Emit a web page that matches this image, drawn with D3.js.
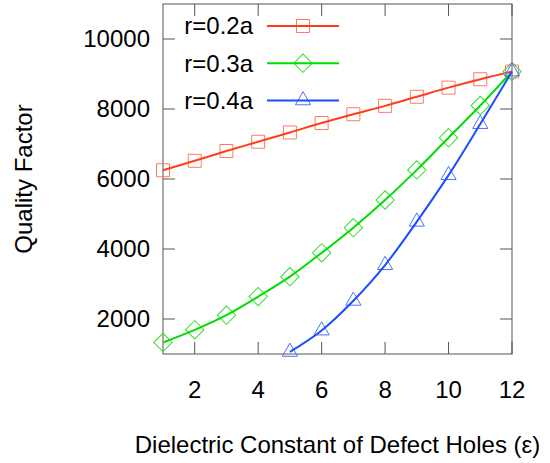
<!DOCTYPE html>
<html>
<head>
<meta charset="utf-8">
<script src="https://cdn.jsdelivr.net/npm/d3@7"></script>
<style>
  body { margin: 0; background: #fff; }
  text { font-family: Arial, "Liberation Sans", sans-serif; fill: #000; }
</style>
</head>
<body>
<svg id="chart"></svg>
<script>
// data
const epsilon = [1, 2, 3, 4, 5, 6, 7, 8, 9, 10, 11, 12];
const q02 = [6250, 6520, 6800, 7065, 7330, 7600, 7850, 8090, 8350, 8610, 8850, 9070];
const q03 = [1330, 1690, 2110, 2640, 3210, 3890, 4610, 5400, 6260, 7180, 8100, 9070];
const eps04 = [5, 6, 7, 8, 9, 10, 11, 12];
const q04 = [1060, 1670, 2520, 3540, 4780, 6110, 7570, 9070];
const xTicks = [2, 4, 6, 8, 10, 12];
const yTicks = [2000, 4000, 6000, 8000, 10000];

const series = [
  { name: "r=0.2a", xs: epsilon, ys: q02, line: "#ff3d1a", mark: "#ff7a66", shape: "square" },
  { name: "r=0.3a", xs: epsilon, ys: q03, line: "#00dd00", mark: "#33dd33", shape: "diamond" },
  { name: "r=0.4a", xs: eps04, ys: q04, line: "#1a4dff", mark: "#4d6fff", shape: "triangle" }
];

const width = 550, height = 463;
const margin = { top: 4, right: 38, bottom: 109, left: 163 };

const svg = d3.select("#chart").attr("width", width).attr("height", height);

const x = d3.scaleLinear().domain([1, 12]).range([margin.left, width - margin.right]);
const y = d3.scaleLinear().domain([1000, 11000]).range([height - margin.bottom, margin.top]);

const frame = "#555";

// ticks, inward, mirrored on both sides
const tickLen = 12;
const g = svg.append("g");
g.selectAll("line.xt").data(xTicks).enter().append("line")
  .attr("x1", d => x(d)).attr("x2", d => x(d))
  .attr("y1", y(1000)).attr("y2", y(1000) - tickLen)
  .attr("stroke", frame);
g.selectAll("line.xt2").data(xTicks).enter().append("line")
  .attr("x1", d => x(d)).attr("x2", d => x(d))
  .attr("y1", y(11000)).attr("y2", y(11000) + tickLen)
  .attr("stroke", frame);
g.selectAll("line.yt").data(yTicks).enter().append("line")
  .attr("x1", x(1)).attr("x2", x(1) + tickLen)
  .attr("y1", d => y(d)).attr("y2", d => y(d))
  .attr("stroke", frame);
g.selectAll("line.yt2").data(yTicks).enter().append("line")
  .attr("x1", x(12)).attr("x2", x(12) - tickLen)
  .attr("y1", d => y(d)).attr("y2", d => y(d))
  .attr("stroke", frame);

g.append("rect")
  .attr("x", x(1)).attr("y", y(11000))
  .attr("width", x(12) - x(1)).attr("height", y(1000) - y(11000))
  .attr("fill", "none").attr("stroke", frame);

// tick labels
svg.selectAll("text.xl").data(xTicks).enter().append("text")
  .attr("x", d => x(d)).attr("y", 398)
  .attr("text-anchor", "middle").attr("font-size", 24)
  .text(d => d);
svg.selectAll("text.yl").data(yTicks).enter().append("text")
  .attr("x", x(1) - 13).attr("y", d => y(d)).attr("dy", "0.35em")
  .attr("text-anchor", "end").attr("font-size", 24)
  .text(d => d);

// axis titles
svg.append("text")
  .attr("x", (x(1) + x(12)) / 2).attr("y", 453)
  .attr("text-anchor", "middle").attr("font-size", 24)
  .text("Dielectric Constant of Defect Holes (ε)");
svg.append("text")
  .attr("transform", `translate(32,${(y(1000) + y(11000)) / 2}) rotate(-90)`)
  .attr("text-anchor", "middle").attr("font-size", 24)
  .text("Quality Factor");

function marker(sel, shape, color) {
  if (shape === "square") {
    sel.append("path").attr("d", d3.symbol(d3.symbolSquare, 169)());
  } else if (shape === "diamond") {
    sel.append("path").attr("d", d3.symbol(d3.symbolSquare, 169)()).attr("transform", "rotate(45)");
  } else {
    sel.append("path").attr("d", d3.symbol(d3.symbolTriangle, 100)());
  }
  sel.selectAll("path").attr("fill", "none").attr("stroke", color).attr("stroke-width", 1);
}

const line = d3.line().curve(d3.curveMonotoneX);

series.forEach(s => {
  const pts = s.xs.map((v, i) => [x(v), y(s.ys[i])]);
  const mg = svg.append("g");
  pts.forEach(p => {
    mg.append("g").attr("transform", `translate(${p[0]},${p[1]})`).call(marker, s.shape, s.mark);
  });
  svg.append("path")
    .attr("d", line(pts))
    .attr("fill", "none").attr("stroke", s.line).attr("stroke-width", 2);
});

// legend
const legend = svg.append("g");
series.forEach((s, i) => {
  const ly = 26 + i * 37.2;
  legend.append("text")
    .attr("x", 253).attr("y", ly).attr("dy", "0.35em")
    .attr("text-anchor", "end").attr("font-size", 24)
    .text(s.name);
  legend.append("g").attr("transform", `translate(303,${ly})`).call(marker, s.shape, s.mark);
  legend.append("line")
    .attr("x1", 267).attr("x2", 339).attr("y1", ly).attr("y2", ly)
    .attr("stroke", s.line).attr("stroke-width", 2);
});
</script>
</body>
</html>
